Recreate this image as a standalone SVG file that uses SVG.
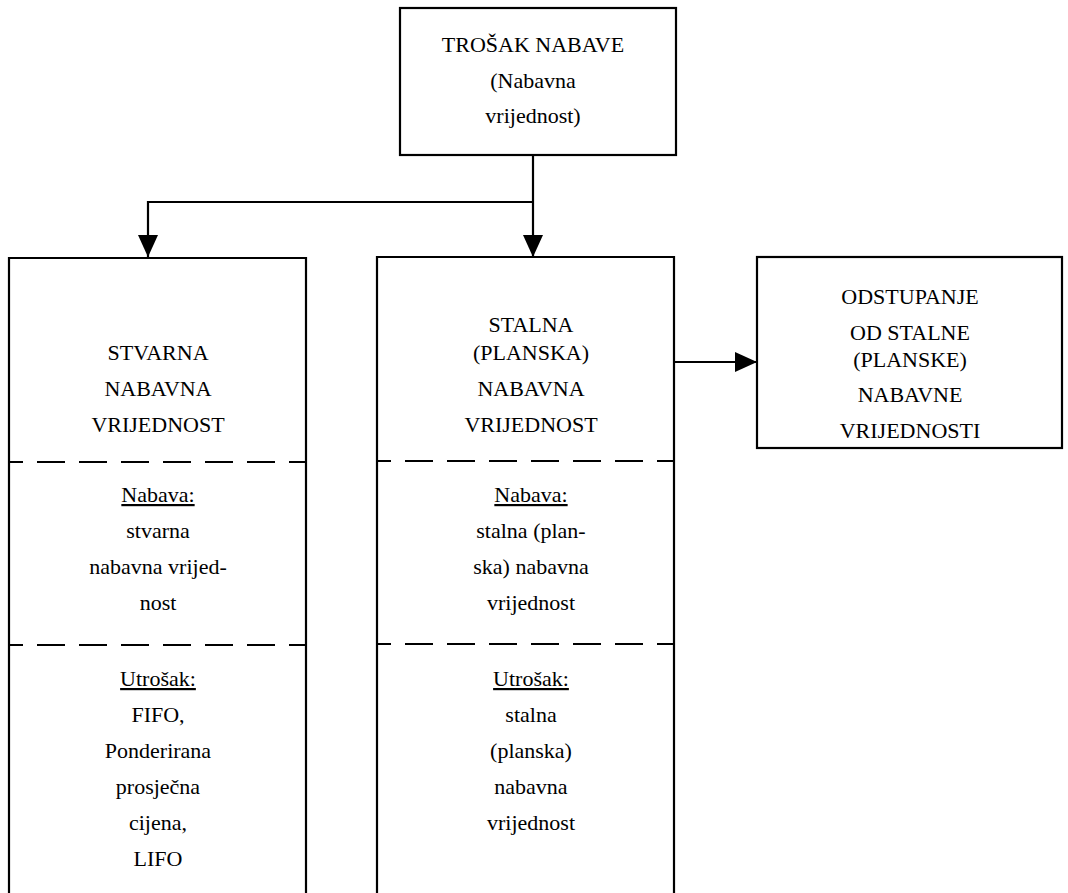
<svg xmlns="http://www.w3.org/2000/svg" width="1068" height="893" viewBox="0 0 1068 893">
<style>
.box{fill:none;stroke:#000;stroke-width:2.2}
.dash{fill:none;stroke:#000;stroke-width:1.8;stroke-dasharray:28 14}
.con{fill:none;stroke:#000;stroke-width:2.2}
text{font-family:"Liberation Serif","Times New Roman",serif;font-size:22px;fill:#000;text-anchor:middle}
.u{text-decoration:underline}
</style>
<defs>
<marker id="ah" viewBox="0 0 22 20" refX="22" refY="10" markerWidth="22" markerHeight="20" markerUnits="userSpaceOnUse" orient="auto">
<path d="M0,0 L22,10 L0,20 Z" fill="#000"/>
</marker>
</defs>
<rect width="1068" height="893" fill="#fff"/>
<g id="connectors">
<path class="con" d="M533,155 V257" marker-end="url(#ah)"/>
<path class="con" d="M533,202 H148 V257" marker-end="url(#ah)"/>
<path class="con" d="M674,362 H757" marker-end="url(#ah)"/>
</g>
<g id="trosak">
<rect class="box" x="400" y="8" width="276" height="147"/>
<text x="533" y="52">TROŠAK NABAVE</text>
<text x="533" y="88">(Nabavna</text>
<text x="533" y="123">vrijednost)</text>
</g>
<g id="stvarna">
<path class="box" d="M9,893 V258 H306 V893"/>
<line class="dash" x1="9" y1="462" x2="306" y2="462" stroke-dashoffset="14"/>
<line class="dash" x1="9" y1="645" x2="306" y2="645" stroke-dashoffset="14"/>
<text x="158" y="360">STVARNA</text>
<text x="158" y="396">NABAVNA</text>
<text x="158" y="432">VRIJEDNOST</text>
<text x="158" y="502" class="u">Nabava:</text>
<text x="158" y="538">stvarna</text>
<text x="158" y="574">nabavna vrijed-</text>
<text x="158" y="610">nost</text>
<text x="158" y="686" class="u">Utrošak:</text>
<text x="158" y="722">FIFO,</text>
<text x="158" y="758">Ponderirana</text>
<text x="158" y="794">prosječna</text>
<text x="158" y="830">cijena,</text>
<text x="158" y="866">LIFO</text>
</g>
<g id="stalna">
<path class="box" d="M377,893 V257 H674 V893"/>
<line class="dash" x1="377" y1="461" x2="674" y2="461" stroke-dashoffset="14"/>
<line class="dash" x1="377" y1="644" x2="674" y2="644" stroke-dashoffset="14"/>
<text x="531" y="332">STALNA</text>
<text x="531" y="360">(PLANSKA)</text>
<text x="531" y="396">NABAVNA</text>
<text x="531" y="432">VRIJEDNOST</text>
<text x="531" y="502" class="u">Nabava:</text>
<text x="531" y="538">stalna (plan-</text>
<text x="531" y="574">ska) nabavna</text>
<text x="531" y="610">vrijednost</text>
<text x="531" y="686" class="u">Utrošak:</text>
<text x="531" y="722">stalna</text>
<text x="531" y="758">(planska)</text>
<text x="531" y="794">nabavna</text>
<text x="531" y="830">vrijednost</text>
</g>
<g id="odstupanje">
<rect class="box" x="757" y="257" width="305" height="191"/>
<text x="910" y="304">ODSTUPANJE</text>
<text x="910" y="340">OD STALNE</text>
<text x="910" y="367">(PLANSKE)</text>
<text x="910" y="402">NABAVNE</text>
<text x="910" y="438">VRIJEDNOSTI</text>
</g>
</svg>
